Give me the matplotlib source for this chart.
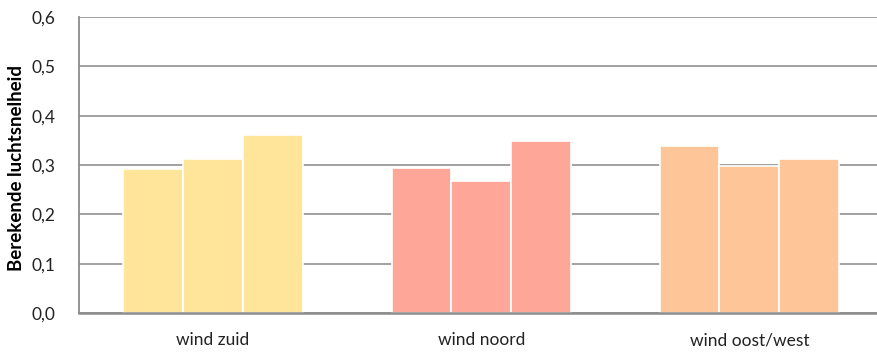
import matplotlib.pyplot as plt
import numpy as np

categories = ['wind zuid', 'wind noord', 'wind oost/west']
values = [
    [0.291, 0.312, 0.360],
    [0.293, 0.268, 0.348],
    [0.339, 0.298, 0.313],
]
colors = ['#FEE599', '#FEA798', '#FEC599']
yticks = [0.0, 0.1, 0.2, 0.3, 0.4, 0.5, 0.6]

plt.rcParams['font.family'] = ['Lato', 'DejaVu Sans']

fig = plt.figure(figsize=(8.77, 3.53), dpi=100)
ax = fig.add_axes([0.0901, 0.1133, 0.9099, 0.8385])

w = 0.223
x = np.arange(len(categories))
for i, vals in enumerate(values):
    offs = (np.arange(len(vals)) - 1) * w
    ax.bar(x[i] + offs, vals, width=w, color=colors[i],
           edgecolor='white', linewidth=1.2, zorder=3)

ax.set_xlim(-0.5, 2.476)
ax.set_ylim(0, 0.6)
ax.set_yticks(yticks)
ax.set_yticklabels([f'{t:.1f}'.replace('.', ',') for t in yticks], fontsize=12.5)
ax.set_xticks(x)
ax.set_xticklabels(categories, fontsize=12.5)
ax.tick_params(axis='both', length=0, colors='#222222')
ax.tick_params(axis='y', pad=17)
ax.tick_params(axis='x', pad=14)

ax.yaxis.grid(True, color='#9A9A9A', linewidth=1.3, zorder=0)
for s in ['top', 'right']:
    ax.spines[s].set_visible(False)
ax.spines['left'].set_color('#8C8C8C')
ax.spines['left'].set_linewidth(1.3)
ax.spines['bottom'].set_color('#8C8C8C')
ax.spines['bottom'].set_linewidth(1.8)
ax.spines['bottom'].set_zorder(4)

ax.set_ylabel('Berekende luchtsnelheid', fontsize=13.5, fontweight='bold')
ax.yaxis.set_label_coords(-0.068, 0.49)

fig.savefig('out.png', dpi=100)
